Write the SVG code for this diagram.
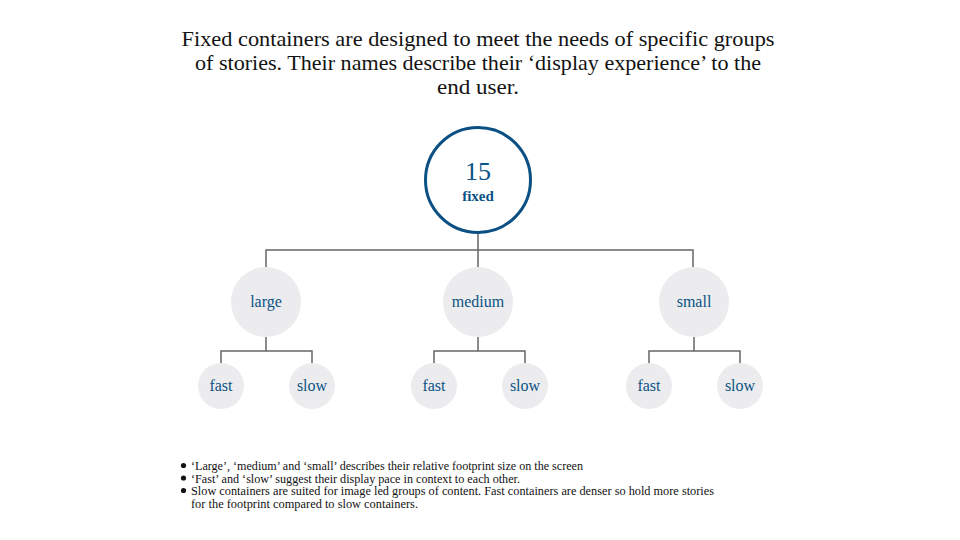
<svg xmlns="http://www.w3.org/2000/svg" width="960" height="540" viewBox="0 0 960 540">
<style>
.title{font-family:"Liberation Serif","DejaVu Serif",serif;font-size:21px;fill:#121212;text-anchor:middle}
.lbl{font-family:"Liberation Serif","DejaVu Serif",serif;font-size:16px;fill:#0b5385;text-anchor:middle}
.sub{fill:#ececee}
.note{font-family:"Liberation Serif","DejaVu Serif",serif;font-size:12.5px;fill:#121212}
.conn{fill:none;stroke:#666;stroke-width:1.5}
</style>
<rect width="960" height="540" fill="#fff"/>
<text class="title" x="478" y="46" textLength="593" lengthAdjust="spacingAndGlyphs">Fixed containers are designed to meet the needs of specific groups</text>
<text class="title" x="478" y="70" textLength="566" lengthAdjust="spacingAndGlyphs">of stories. Their names describe their ‘display experience’ to the</text>
<text class="title" x="478" y="94" textLength="82" lengthAdjust="spacingAndGlyphs">end user.</text>
<g id="connectors">
<path class="conn" d="M478 233V250M266 268V250H693V268M478 250V268"/>
<path class="conn" d="M266 337V351M221 366V351H312V366"/>
<path class="conn" d="M478 337V351M434 366V351H525V366"/>
<path class="conn" d="M694 337V351M649 366V351H740V366"/>
</g>
<g id="fixed">
<circle cx="478" cy="180" r="52.5" fill="#fff" stroke="#0b4f83" stroke-width="3"/>
<text class="lbl" x="478" y="180" style="font-size:26px">15</text>
<text class="lbl" x="478" y="201" style="font-weight:bold;font-size:15px">fixed</text>
</g>
<g id="large"><circle class="sub" cx="266" cy="302" r="35"/><text class="lbl" x="266" y="307">large</text></g>
<g id="medium"><circle class="sub" cx="478" cy="302" r="35"/><text class="lbl" x="478" y="307">medium</text></g>
<g id="small"><circle class="sub" cx="694" cy="302" r="35"/><text class="lbl" x="694" y="307">small</text></g>
<g id="large-fast"><circle class="sub" cx="221" cy="386" r="23"/><text class="lbl" x="221" y="391">fast</text></g>
<g id="large-slow"><circle class="sub" cx="312" cy="386" r="23"/><text class="lbl" x="312" y="391">slow</text></g>
<g id="medium-fast"><circle class="sub" cx="434" cy="386" r="23"/><text class="lbl" x="434" y="391">fast</text></g>
<g id="medium-slow"><circle class="sub" cx="525" cy="386" r="23"/><text class="lbl" x="525" y="391">slow</text></g>
<g id="small-fast"><circle class="sub" cx="649" cy="386" r="23"/><text class="lbl" x="649" y="391">fast</text></g>
<g id="small-slow"><circle class="sub" cx="740" cy="386" r="23"/><text class="lbl" x="740" y="391">slow</text></g>
<g id="notes">
<circle cx="183.5" cy="465.5" r="2.6" fill="#121212"/>
<circle cx="183.5" cy="478" r="2.6" fill="#121212"/>
<circle cx="183.5" cy="490.5" r="2.6" fill="#121212"/>
<text class="note" x="191" y="470" textLength="392" lengthAdjust="spacingAndGlyphs">‘Large’, ‘medium’ and ‘small’ describes their relative footprint size on the screen</text>
<text class="note" x="191" y="482.5" textLength="329" lengthAdjust="spacingAndGlyphs">‘Fast’ and ‘slow’ suggest their display pace in context to each other.</text>
<text class="note" x="191" y="495" textLength="523" lengthAdjust="spacingAndGlyphs">Slow containers are suited for image led groups of content. Fast containers are denser so hold more stories</text>
<text class="note" x="191" y="507.5" textLength="227" lengthAdjust="spacingAndGlyphs">for the footprint compared to slow containers.</text>
</g>
</svg>
